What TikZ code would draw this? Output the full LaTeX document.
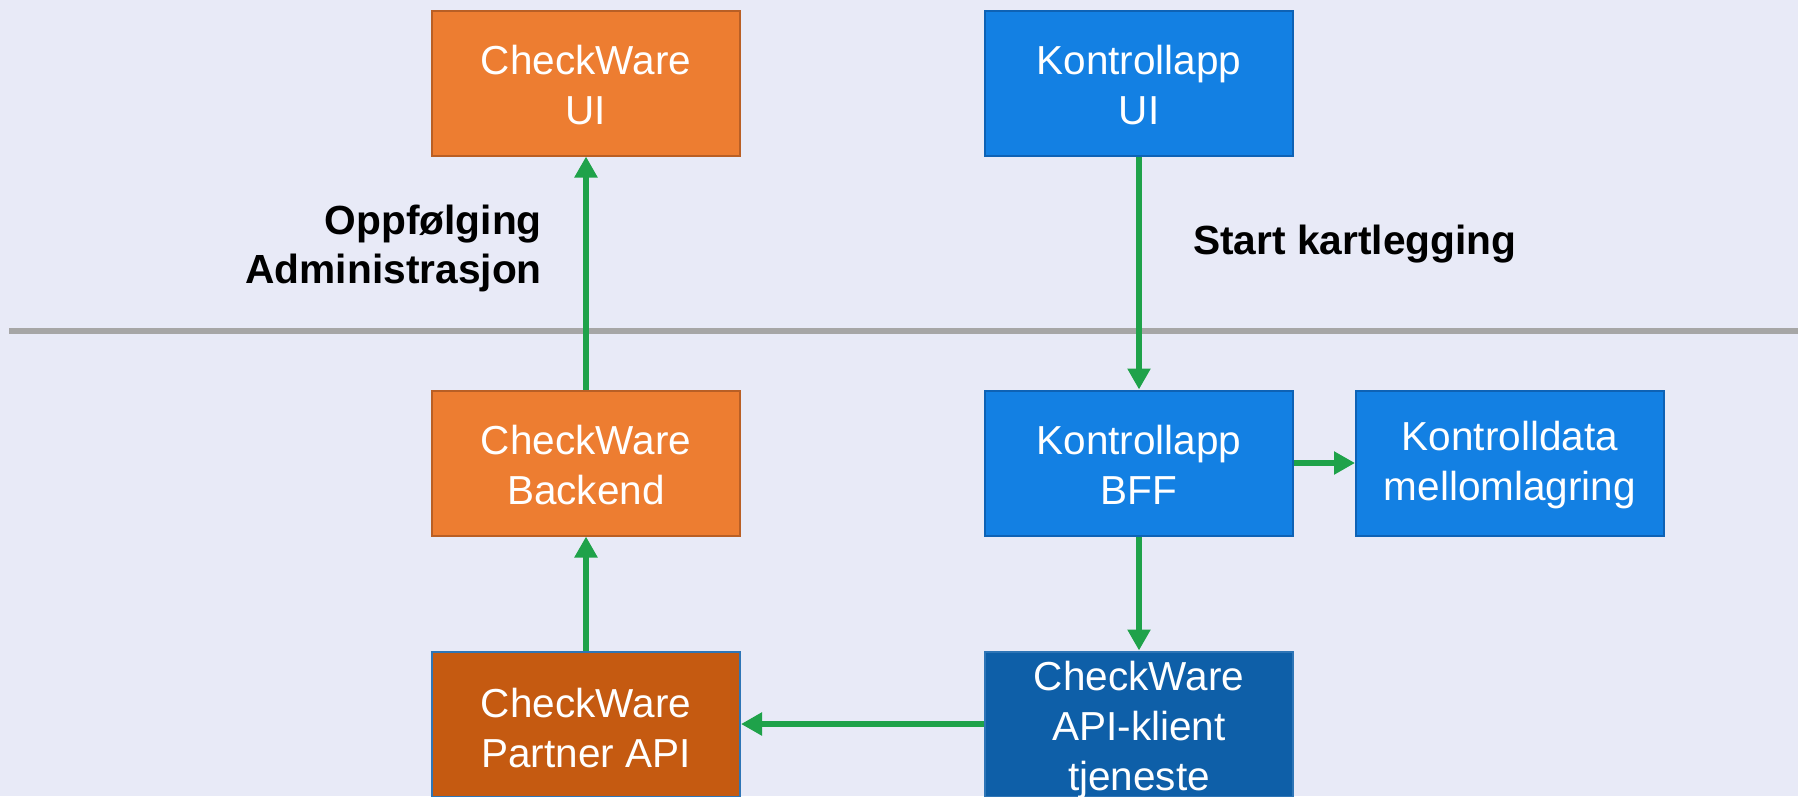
\documentclass[tikz,border=0pt]{standalone}
\usepackage{fontspec}
\setmainfont{Liberation Sans}
\usetikzlibrary{arrows.meta}
\definecolor{bg}{HTML}{E8EAF7}
\definecolor{sepgray}{HTML}{A6A6A6}
\definecolor{orfill}{HTML}{ED7D31}
\definecolor{ordraw}{HTML}{B95F25}
\definecolor{darkor}{HTML}{C55A11}
\definecolor{bluefill}{HTML}{1380E3}
\definecolor{bluedraw}{HTML}{0E62B5}
\definecolor{darkblue}{HTML}{0E5FA8}
\definecolor{darkbluedraw}{HTML}{2E75B6}
\definecolor{arrgreen}{HTML}{1FA24A}
\newcommand{\topstrut}[1]{\rule{0pt}{#1}}
\tikzset{
  boxtext/.style={inner sep=0pt, align=center, text=white,
    font=\fontsize{40.5}{50}\selectfont},
  box/.style={boxtext, rectangle, minimum width=308pt, minimum height=145pt, line width=2pt},
  orbox/.style={box, fill=orfill, draw=ordraw},
  darkorbox/.style={box, fill=darkor, draw=darkbluedraw},
  bluebox/.style={box, fill=bluefill, draw=bluedraw},
  darkbluebox/.style={box, fill=darkblue, draw=darkbluedraw},
  flow/.style={draw=arrgreen, line width=6pt, -{Triangle[length=21pt,width=22pt]}},
  lbl/.style={font=\bfseries\fontsize{40.7}{49}\selectfont, inner sep=0pt}
}
\begin{document}
\begin{tikzpicture}[x=1pt,y=-1pt]
\fill[bg] (0,0) rectangle (1798,796);
\useasboundingbox (0,0) rectangle (1798,796);
\clip (0,0) rectangle (1798,796);
\draw[sepgray, line width=6pt] (9,331) -- (1798,331);

\node[orbox] (cwui) at (586,83) {\topstrut{33pt}CheckWare\\UI};
\node[bluebox] (kui) at (1139,83) {\topstrut{33pt}Kontrollapp\\UI};
\node[orbox] (cwbe) at (586,463) {\topstrut{33pt}CheckWare\\Backend};
\node[bluebox] (bff) at (1139,463) {\topstrut{33pt}Kontrollapp\\BFF};
\node[bluebox] (kdata) at (1510,463) {\topstrut{33pt}Kontrolldata\\mellomlagring};
\node[darkorbox] (papi) at (586,724) {\topstrut{37pt}CheckWare\\Partner API};
\node[darkbluebox] (klient) at (1139,724) {};
\node[boxtext] (klienttxt) at (1139,730) {CheckWare\\API-klient\\tjeneste};

\node[lbl, anchor=east, align=right] (oppf) at (542,248) {Oppfølging\\Administrasjon};
\node[lbl, anchor=west] (start) at (1193,244) {Start kartlegging};

\draw[flow] (cwbe.north) -- (cwui.south);
\draw[flow] (papi.north) -- (cwbe.south);
\draw[flow] (kui.south) -- (bff.north);
\draw[flow] (bff.south) -- (klient.north);
\draw[flow] (bff.east) -- (kdata.west);
\draw[flow] (klient.west) -- (papi.east);
\end{tikzpicture}
\end{document}
